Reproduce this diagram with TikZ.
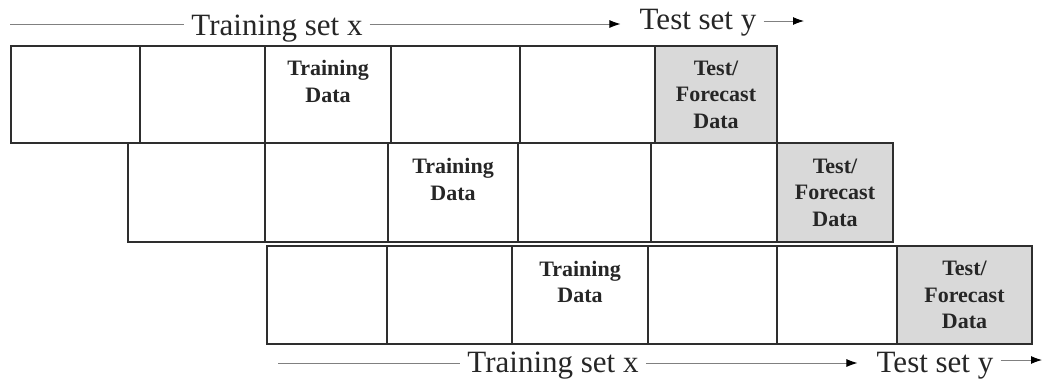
\documentclass[tikz,border=0pt]{standalone}
\usepackage{fontspec}
\setmainfont{Liberation Serif}
\usetikzlibrary{arrows.meta,calc}
\definecolor{cellline}{HTML}{2E2E2E}
\definecolor{testfill}{HTML}{D9D9D9}
\definecolor{guide}{HTML}{808080}
\newcommand\mycell[7]{\node[cellbox,#6, minimum width={#3-#2}, minimum height={#5-#4}] (#1) at ({(#2+#3)/2},{(#4+#5)/2}) {#7};}
\begin{document}
\begin{tikzpicture}[x=1pt,y=-1pt,
  cellbox/.style={draw=cellline, line width=1.4pt, rectangle, inner sep=0pt, outer sep=0pt, align=center,
    font=\fontsize{22}{26.5}\selectfont\bfseries, text=black!85},
  plain/.style={fill=white},
  test/.style={fill=testfill},
  lbl/.style={font=\fontsize{31}{36}\selectfont, inner xsep=7pt, inner ysep=0pt, anchor=base, text=black!85},
  guideline/.style={draw=guide, line width=0.9pt},
  arr/.style={guideline, -{Latex[length=11pt,width=8pt,color=black]}}
]
\useasboundingbox (0,0) rectangle (1042,383);
% row 1
\mycell{a1}{11}{140}{46}{143}{plain}{}
\mycell{a2}{140}{265}{46}{143}{plain}{}
\mycell{a3}{265}{391}{46}{143}{plain}{Training\\Data\\\phantom{D}}
\mycell{a4}{391}{520}{46}{143}{plain}{}
\mycell{a5}{520}{655}{46}{143}{plain}{}
\mycell{a6}{655}{777}{46}{143}{test}{Test/\\Forecast\\Data}
% row 2
\mycell{b1}{128}{265}{143}{242}{plain}{}
\mycell{b2}{265}{388}{143}{242}{plain}{}
\mycell{b3}{388}{518}{143}{242}{plain}{Training\\Data\\\phantom{D}}
\mycell{b4}{518}{651}{143}{242}{plain}{}
\mycell{b5}{651}{777}{143}{242}{plain}{}
\mycell{b6}{777}{893}{143}{242}{test}{Test/\\Forecast\\Data}
% row 3
\mycell{c1}{267}{387}{246}{344}{plain}{}
\mycell{c2}{387}{512}{246}{344}{plain}{}
\mycell{c3}{512}{648}{246}{344}{plain}{Training\\Data\\\phantom{D}}
\mycell{c4}{648}{777}{246}{344}{plain}{}
\mycell{c5}{777}{897}{246}{344}{plain}{}
\mycell{c6}{897}{1032}{246}{344}{test}{Test/\\Forecast\\Data}
% top labels
\node[lbl] (topTrain) at (277,35) {Training set x};
\node[lbl] (topTest) at (698,29) {Test set y};
\coordinate (tStart) at (10,24);
\coordinate (tEnd) at (804,21);
\draw[guideline] (tStart) -- (topTrain.west |- tStart);
\draw[arr, shorten >=12pt] (topTrain.east |- tStart) -- (topTest.west |- tStart);
\draw[arr] (topTest.east |- tEnd) -- (tEnd);
% bottom labels
\node[lbl] (botTrain) at (553,372) {Training set x};
\node[lbl] (botTest) at (935,372) {Test set y};
\coordinate (bStart) at (278,363);
\coordinate (bEnd) at (1042,360);
\draw[guideline] (bStart) -- (botTrain.west |- bStart);
\draw[arr, shorten >=12pt] (botTrain.east |- bStart) -- (botTest.west |- bStart);
\draw[arr] (botTest.east |- bEnd) -- (bEnd);
\end{tikzpicture}
\end{document}
